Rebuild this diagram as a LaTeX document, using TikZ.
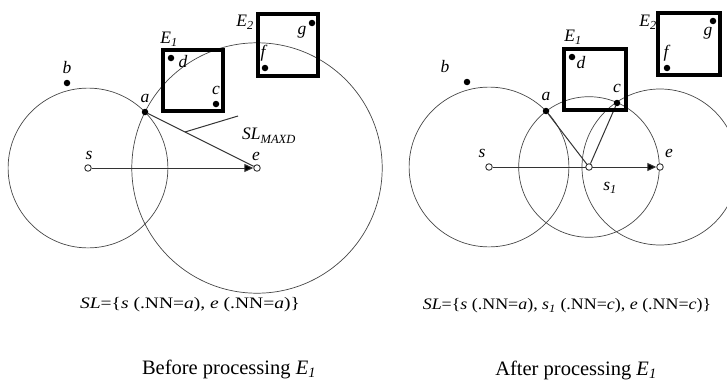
\documentclass[tikz,border=0pt]{standalone}
\usepackage{fontspec}
\setmainfont{Liberation Serif}
\usetikzlibrary{arrows.meta,calc}
\pgfdeclarelayer{bg}
\pgfsetlayers{bg,main}
\begin{document}
\begin{tikzpicture}[x=1pt,y=-1pt,
  circline/.style={draw=black!72,line width=0.7pt},
  segline/.style={draw=black!80,line width=1pt},
  ebox/.style={draw=black,line width=3.6pt,inner sep=0pt},
  fulldot/.style={circle,fill=black,inner sep=0pt,minimum size=6.5pt},
  opendot/.style={circle,draw=black!80,fill=white,line width=0.9pt,inner sep=0pt,minimum size=6.5pt},
  lbl/.style={font=\fontsize{17.5}{19}\selectfont\itshape,inner sep=0pt},
  sltext/.style={font=\fontsize{16}{18}\selectfont,inner sep=0pt},
  captext/.style={font=\fontsize{20.5}{24}\selectfont,inner sep=0pt},
  arrline/.style={segline,-{Triangle[length=9pt,width=8pt,fill=black]}}]
\useasboundingbox (0,0) rectangle (727,383);
\clip (0,0) rectangle (727,383);

% ---------- left panel ----------
\node[opendot] (Ls) at (88,168) {};
\node[opendot] (Le) at (257,168) {};
\node[fulldot] (La) at (145,112) {};
\node[fulldot] (Lb) at (67,83) {};
\node[fulldot] (Ld) at (171,58) {};
\node[fulldot] (Lc) at (216,104) {};
\node[fulldot] (Lf) at (265,68) {};
\node[fulldot] (Lg) at (312,23) {};
\node[ebox,minimum width=60pt,minimum height=61pt] (LE1) at (193,80.5) {};
\node[ebox,minimum width=60pt,minimum height=62pt] (LE2) at (288,45) {};
\coordinate (Lp) at ($(La)!0.357!(Le)$);
\coordinate (Lq) at (238,116);

\node[lbl] (Lbl-b) at (67,68) {b};
\node[lbl] (Lbl-a) at (145,98) {a};
\node[lbl] (Lbl-d) at (183,62) {d};
\node[lbl] (Lbl-c) at (216,90) {c};
\node[lbl] (Lbl-E1) at (169,39) {E\textsubscript{1}};
\node[lbl] (Lbl-E2) at (245,22) {E\textsubscript{2}};
\node[lbl] (Lbl-g) at (302,32) {g};
\node[lbl] (Lbl-f) at (263,53) {f};
\node[lbl] (Lbl-s) at (89,155) {s};
\node[lbl] (Lbl-e) at (256,156) {e};
\node[lbl,anchor=west] (Lbl-SL) at (242,135.5) {SL{\fontsize{12.5}{14}\selectfont\raisebox{-4.5pt}{MAXD}}};

\node[sltext,xscale=1.22] (LSL) at (190,305) {\textit{SL}=\{\textit{s} (.NN=\textit{a}), \textit{e} (.NN=\textit{a})\}};
\node[captext] (Lcap) at (229,369) {Before processing \textit{E\textsubscript{1}}};

\begin{pgfonlayer}{bg}
\draw[circline] (Ls.center) circle[radius=79.9];
\draw[circline] (Le.center) circle[radius=125.2];
\draw[segline] (La) -- (Le);
\draw[segline] (Lp) -- (Lq);
\draw[arrline] (Ls) -- (Le);
\end{pgfonlayer}

% ---------- right panel ----------
\node[opendot] (Rs) at (489,167) {};
\node[opendot] (Rs1) at (589,167) {};
\node[opendot] (Re) at (660,167) {};
\node[fulldot] (Ra) at (546,111) {};
\node[fulldot] (Rb) at (467,82) {};
\node[fulldot] (Rd) at (572,57) {};
\node[fulldot] (Rc) at (617,103) {};
\node[fulldot] (Rf) at (667,68) {};
\node[fulldot] (Rg) at (713,21) {};
\node[ebox,minimum width=62pt,minimum height=61pt] (RE1) at (595,79.5) {};
\node[ebox,minimum width=62pt,minimum height=62pt] (RE2) at (689,44) {};

\node[lbl] (Rbl-b) at (445,67) {b};
\node[lbl] (Rbl-a) at (546,96) {a};
\node[lbl] (Rbl-d) at (581,63) {d};
\node[lbl] (Rbl-c) at (617,88) {c};
\node[lbl] (Rbl-E1) at (573,37) {E\textsubscript{1}};
\node[lbl] (Rbl-E2) at (648,22) {E\textsubscript{2}};
\node[lbl] (Rbl-g) at (708,33) {g};
\node[lbl] (Rbl-f) at (666,53) {f};
\node[lbl] (Rbl-s) at (482,153) {s};
\node[lbl] (Rbl-e) at (669,153) {e};
\node[lbl] (Rbl-s1) at (610,188) {s\textsubscript{1}};

\node[sltext,xscale=1.12] (RSL) at (567,306) {\textit{SL}=\{\textit{s} (.NN=\textit{a}), \textit{s\textsubscript{1}} (.NN=\textit{c}), \textit{e} (.NN=\textit{c})\}};
\node[captext] (Rcap) at (576,370) {After processing \textit{E\textsubscript{1}}};

\begin{pgfonlayer}{bg}
\draw[circline] (Rs.center) circle[radius=79.9];
\draw[circline] (Rs1.center) circle[radius=70.3];
\draw[circline] (Re.center) circle[radius=78];
\draw[segline] (Ra) -- (Rs1);
\draw[segline] (Rs1) -- (Rc);
\draw[arrline] (Rs) -- (Re);
\end{pgfonlayer}
\end{tikzpicture}
\end{document}
